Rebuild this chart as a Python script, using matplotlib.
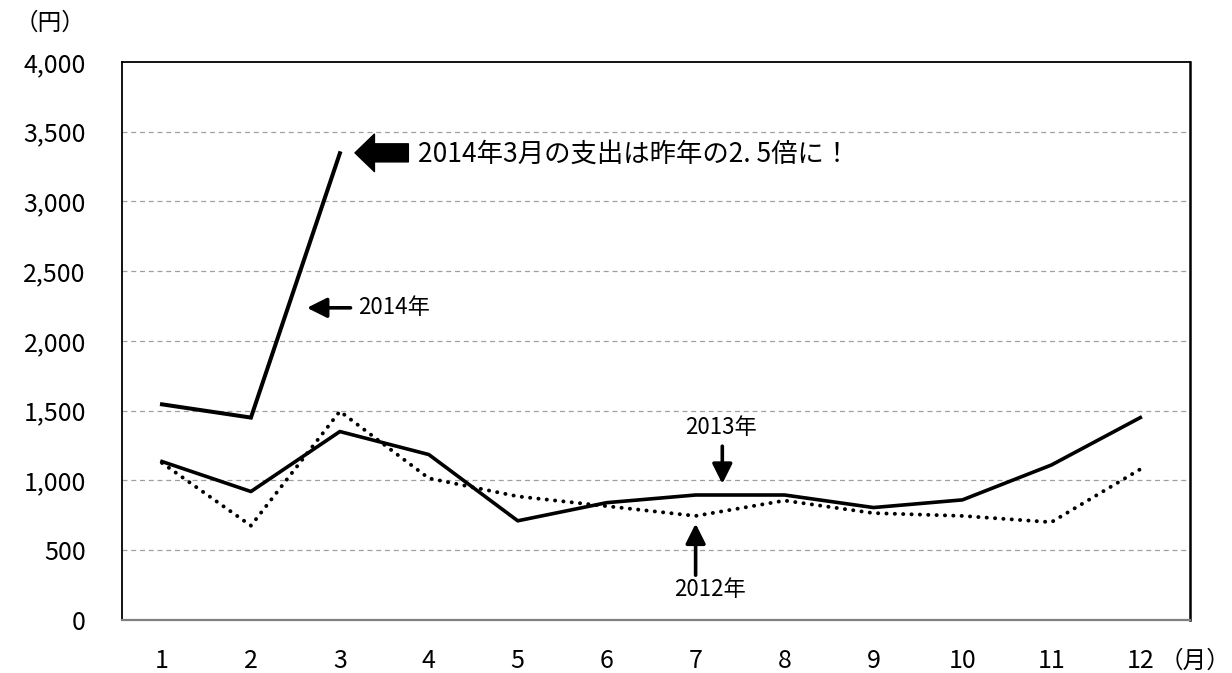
import matplotlib
matplotlib.use('Agg')
import matplotlib.pyplot as plt

plt.rcParams['font.family'] = ['Noto Sans CJK JP', 'DejaVu Sans']

# ---- data (月別支出, 円) ----
months = [1, 2, 3, 4, 5, 6, 7, 8, 9, 10, 11, 12]
y2014_months = [1, 2, 3]
y2014 = [1545, 1450, 3345]
y2013 = [1135, 920, 1350, 1185, 710, 840, 895, 895, 805, 860, 1110, 1450]
y2012 = [1125, 675, 1495, 1015, 885, 815, 745, 855, 765, 745, 700, 1080]
yticks = [0, 500, 1000, 1500, 2000, 2500, 3000, 3500, 4000]

fig = plt.figure(figsize=(12.32, 6.73), dpi=100)
ax = fig.add_axes([0.099, 0.079, 0.867, 0.829])

ax.plot(y2014_months, y2014, color='black', lw=2.9, solid_joinstyle='miter')
ax.plot(months, y2013, color='black', lw=2.6)
ax.plot(months, y2012, color='black', lw=2.8, linestyle=(0, (0.05, 2.1)),
        dash_capstyle='round')

ax.set_xlim(0.55, 12.56)
ax.set_ylim(0, 4000)
ax.set_xticks(months)
ax.set_xticklabels([str(m) for m in months])
ax.set_yticks(yticks)
ax.set_yticklabels([f'{v:,}' for v in yticks])
ax.tick_params(axis='both', length=0, labelsize=18)
ax.tick_params(axis='x', pad=20)
ax.tick_params(axis='y', pad=26)

for v in yticks[1:-1]:
    ax.axhline(v, color='#a0a0a0', lw=0.9, linestyle=(0, (4, 3)), zorder=0)

for side in ['left', 'top', 'right']:
    ax.spines[side].set_color('black')
    ax.spines[side].set_linewidth(1.3)
ax.spines['right'].set_linewidth(1.8)
ax.spines['bottom'].set_color('#808080')
ax.spines['bottom'].set_linewidth(1.6)

# units
fig.text(0.012, 0.965, '（円）', fontsize=17, va='center', ha='left')
ax.annotate('（月）', xy=(12.0, 0), xycoords='data',
            xytext=(14, -30), textcoords='offset points',
            fontsize=17, va='center', ha='left')

# big callout
ax.annotate('', xy=(3.17, 3348), xytext=(3.77, 3348),
            arrowprops=dict(arrowstyle='simple,head_length=0.7,head_width=1.35,tail_width=0.65',
                            color='black', mutation_scale=20, shrinkA=0, shrinkB=0))
ax.text(3.88, 3340, '2014年3月の支出は昨年の2. 5倍に！', fontsize=19,
        va='center', ha='left')

small = dict(arrowstyle='-|>,head_length=0.6,head_width=0.3', color='black',
             lw=2.6, mutation_scale=20, shrinkA=0, shrinkB=0)

ax.annotate('', xy=(2.63, 2237), xytext=(3.12, 2237), arrowprops=small)
ax.text(3.2, 2237, '2014年', fontsize=16, va='center', ha='left')

ax.annotate('', xy=(7.3, 975), xytext=(7.3, 1245), arrowprops=small)
ax.text(7.28, 1376, '2013年', fontsize=16, va='center', ha='center')

ax.annotate('', xy=(7.0, 690), xytext=(7.0, 320), arrowprops=small)
ax.text(7.16, 215, '2012年', fontsize=16, va='center', ha='center')

fig.savefig('out.png', dpi=100)
